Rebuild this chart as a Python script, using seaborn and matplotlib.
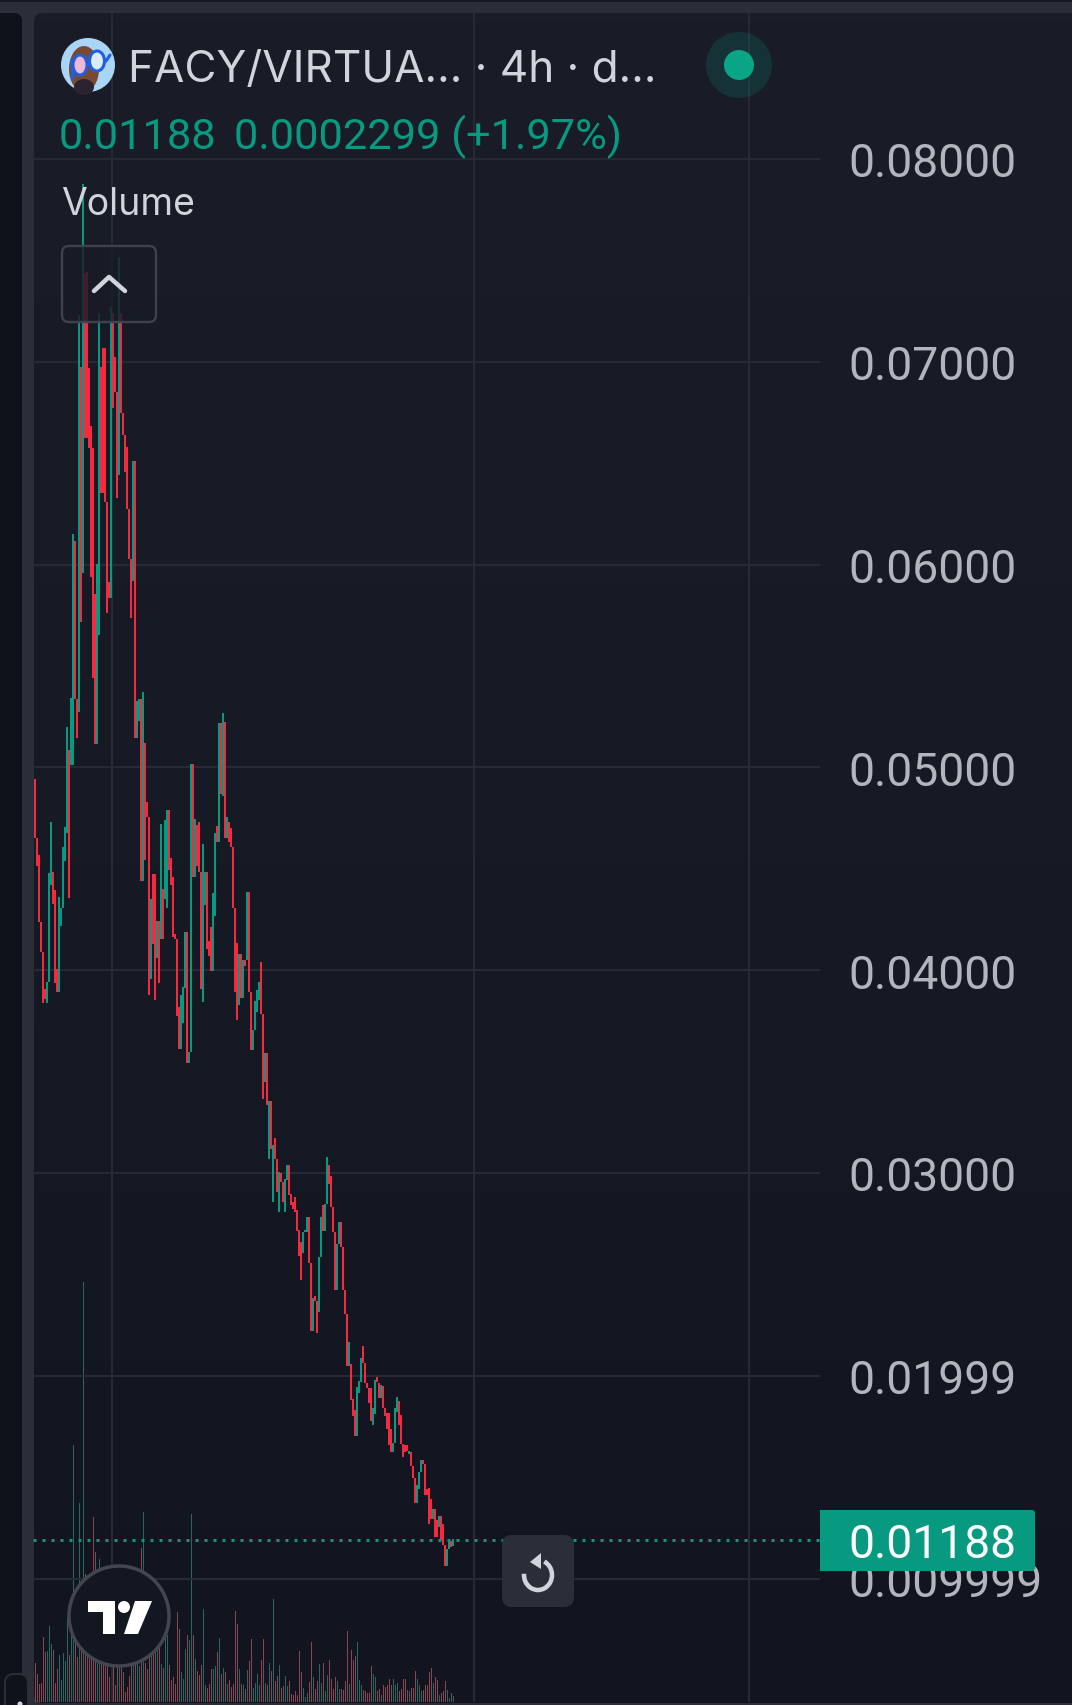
import numpy as np
import pandas as pd
import matplotlib
matplotlib.use("Agg")
import matplotlib.pyplot as plt
from matplotlib.patches import Circle, Ellipse, FancyBboxPatch, Polygon, Rectangle, Arc
import seaborn as sns

# ---- data (prices in units of 1e-5) ----
high_e5 = [
 4943,4653,4569,4239,4091,3908,3943,4480,4731,4485,
 4396,4007,4362,4308,4608,4707,5200,5086,5343,6151,
 6116,5338,7230,6974,7876,7437,7442,6969,6683,6575,
 5855,6003,7240,6974,7068,7068,6309,5914,7270,7240,
 7023,6851,7516,7240,6747,6639,6580,6274,6028,6511,
 6511,5328,5338,5338,5372,5121,4830,4756,4352,4475,
 4475,4243,4243,4721,4401,4741,4791,4791,4554,4460,
 4179,4155,3820,3879,3918,4189,4189,3598,5017,5017,
 4746,4717,4731,4485,4623,4485,4485,4145,4214,4381,
 4677,4712,5219,5219,5269,5224,4756,4731,4702,4608,
 4308,4135,4081,4081,4051,4051,4386,4386,3893,3706,
 3849,3903,3943,4041,3785,3593,3593,3356,3356,3139,
 3174,3070,3006,3001,2957,2972,3041,3041,2898,2858,
 2883,2819,2720,2661,2711,2720,2784,2784,2558,2385,
 2395,2370,2587,2784,2844,2848,3080,3041,2986,2834,
 2711,2651,2760,2760,2637,2425,2306,2168,2060,1887,
 1833,1942,1976,2085,2144,2065,1966,1937,1937,1843,
 1981,1996,1966,1956,1951,1843,1818,1818,1735,1666,
 1843,1897,1873,1804,1661,1656,1656,1631,1626,1557,
 1498,1459,1523,1582,1582,1567,1439,1444,1390,1345,
 1345,1286,1306,1306,1271,1163,1143,1192,1187,1197]
low_e5 = [
 4653,4515,4239,4091,3839,3859,3839,3943,4421,4327,
 3938,3893,3893,4219,4308,4539,4677,4357,5012,5012,
 5338,5145,5274,5717,5959,6624,6624,6575,5939,5441,
 5116,5116,5653,6353,6353,6309,5762,5835,5835,6772,
 6851,6328,6442,6747,6639,6457,6274,6028,5737,5919,
 5145,5145,5229,4441,4441,4544,4756,3879,3958,4130,
 3854,4061,3938,4155,4155,4352,4308,4495,4421,4165,
 4155,3775,3613,3613,3741,3913,3543,3543,3598,4460,
 4460,4515,4485,3908,3844,4322,4105,4071,3997,3997,
 4268,4633,4633,4869,4860,4653,4653,4633,4608,4308,
 3893,3755,3829,3864,3864,4022,4051,3893,3608,3608,
 3706,3795,3854,3785,3366,3450,3336,3070,3120,2858,
 3070,2908,2809,2957,2858,2809,2967,2893,2844,2824,
 2809,2715,2592,2474,2607,2711,2711,2558,2218,2218,
 2370,2213,2316,2587,2715,2715,2848,2947,2834,2711,
 2425,2425,2651,2637,2425,2306,2050,2050,1882,1799,
 1705,1705,1917,1971,2065,1966,1937,1863,1779,1759,
 1809,1971,1892,1892,1843,1799,1735,1656,1626,1626,
 1666,1823,1759,1661,1597,1626,1631,1616,1557,1498,
 1370,1370,1439,1523,1567,1414,1414,1271,1291,1291,
 1207,1207,1252,1192,1163,1064,1064,1143,1153,1158]
up_candles = [
 6,7,8,12,13,14,15,16,18,19,22,24,31,32,38,42,49,51,52,54,58,61,63,65,66,
 73,74,75,77,78,80,84,85,89,90,92,94,96,102,104,106,109,110,111,112,115,
 117,119,122,125,126,134,135,136,139,142,143,145,146,151,152,157,161,162,
 163,169,170,173,179,180,181,187,191,192,193,199,202,206,207,209]
volume = [
 39,28,18,19,65,50,51,76,58,52,
 19,33,47,22,49,41,85,47,70,257,
 60,45,199,52,420,128,100,70,60,185,
 150,60,143,42,45,50,48,25,38,40,
 17,40,38,35,30,10,15,26,37,38,
 38,42,36,154,190,39,33,45,50,55,
 52,60,70,38,34,70,67,37,22,25,
 18,90,73,30,23,53,67,62,188,67,
 43,31,27,37,93,17,14,18,33,33,
 36,50,64,28,34,30,18,22,15,18,
 91,78,33,18,17,13,32,41,63,14,
 19,28,17,42,63,19,17,39,31,103,
 21,26,37,14,16,26,16,21,8,7,
 11,7,51,30,14,5,9,20,60,25,
 13,21,38,19,39,11,27,42,23,13,
 25,21,13,13,12,21,71,18,52,42,
 46,60,22,17,12,11,9,9,36,28,
 25,11,13,7,17,15,17,23,17,23,
 17,19,11,13,23,23,12,11,14,14,
 31,23,17,11,12,17,17,30,34,19,
 25,22,7,9,11,21,12,4,9,6]
price_ticks = [0.08, 0.07, 0.06, 0.05, 0.04, 0.03, 0.01999, 0.009999]
price_labels = ["0.08000","0.07000","0.06000","0.05000","0.04000","0.03000","0.01999","0.009999"]
last_price = 0.01188
title_text = "FACY/VIRTUA... · 4h · d..."
quote_close = "0.01188"
quote_change = "0.0002299 (+1.97%)"
time_grid = [38.5, 219.5, 357]

UP, DOWN = "#089981", "#f5293f"
VOL_UP, VOL_DOWN = "#1f7067", "#8f3d4c"
GRID = "#262a35"
TEXT = "#d1d4dc"
TICK = "#b2b5be"
W, H = 1072, 1706
PX = 72 / 100  # points per pixel

sns.set_theme(style="dark")
plt.rcParams["font.family"] = ["Inter", "DejaVu Sans"]
NUM_FONT = ["Roboto", "DejaVu Sans"]

df = pd.DataFrame({"i": np.arange(len(high_e5)),
                   "high": np.array(high_e5) / 1e5,
                   "low": np.array(low_e5) / 1e5,
                   "volume": volume})
df["dir"] = np.where(df["i"].isin(up_candles), "up", "down")

fig = plt.figure(figsize=(W / 100, H / 100), dpi=100, facecolor="#2a2e39")

def frame(left, top, right, bottom):
    return [left / W, 1 - bottom / H, (right - left) / W, (bottom - top) / H]

# ---- background panels ----
bg = fig.add_axes([0, 0, 1, 1], zorder=0)
bg.set_xlim(0, W); bg.set_ylim(H, 0); bg.axis("off")
bg.add_patch(Rectangle((0, 0), W, 3, fc="#131722", ec="none"))
bg.add_patch(FancyBboxPatch((-20, 14), 42, H, boxstyle="round,pad=0,rounding_size=8", fc="#0f121a", ec="none"))
clip = FancyBboxPatch((34, 14), W, 1690, boxstyle="round,pad=0,rounding_size=9", fc="none", ec="none")
bg.add_patch(clip)
grad = np.linspace(0, 1, 256)[:, None]
cmap = matplotlib.colors.LinearSegmentedColormap.from_list("p", ["#1a1d28", "#161a25", "#12151f"])
im = bg.imshow(grad, extent=(34, W, 1704, 14), cmap=cmap, aspect="auto", zorder=1)
im.set_clip_path(clip)
bg.set_xlim(0, W); bg.set_ylim(H, 0)

# ---- volume ----
L, T, R, B = 33, 14, 820, 1703
ax_vol = fig.add_axes(frame(L, T, R, B), zorder=1, facecolor="none")
sns.barplot(data=df, x="i", y="volume", hue="dir", palette={"up": VOL_UP, "down": VOL_DOWN},
            dodge=False, native_scale=True, width=0.5, errorbar=None, legend=False, ax=ax_vol, linewidth=0)
ax_vol.set_xlim(-1.25, 392.25)
ax_vol.set_ylim(0, B - T)
ax_vol.axis("off")

# ---- price ----
ax = fig.add_axes(frame(L, T, R, B), zorder=2, facecolor="none")
ax.vlines(df["i"], df["low"], df["high"], colors=[UP if d == "up" else DOWN for d in df["dir"]],
          linewidth=2 * PX, capstyle="butt", zorder=3)
ax.axhline(last_price, color=UP, lw=3 * PX, linestyle=(0, (1, 2)), zorder=4)
ax.set_xlim(-1, 392.5)
ax.set_ylim(0.01 - (B - 1579.5) / 20280, 0.01 + (1579.5 - T) / 20280)
ax.set_xticks(time_grid); ax.set_xticklabels([])
ax.set_yticks(price_ticks); ax.set_yticklabels(price_labels, family=NUM_FONT)
ax.yaxis.tick_right()
ax.tick_params(axis="y", length=0, pad=28 * PX, labelsize=33.3, labelcolor=TICK)
ax.tick_params(axis="x", length=0)
ax.grid(True, color=GRID, lw=2 * PX)
ax.set_axisbelow(True)
for s in ax.spines.values():
    s.set_visible(False)

# ---- overlay chrome ----
ov = fig.add_axes([0, 0, 1, 1], zorder=3, facecolor="none")
ov.set_xlim(0, W); ov.set_ylim(H, 0); ov.axis("off")

# avatar
ov.add_patch(Circle((88, 66), 27, fc="#a9d6f7", ec="none"))
ov.add_patch(Ellipse((84, 70), 30, 46, fc="#7a4a30", ec="none"))
ov.add_patch(Ellipse((84, 88), 20, 16, fc="#2b2430", ec="none"))
ov.add_patch(Ellipse((80, 66), 14, 20, fc="#f2b6d8", ec="#1f5fe0", lw=2.2))
ov.add_patch(Ellipse((97, 62), 15, 20, fc="#d9ecfb", ec="#1f5fe0", lw=2.2))
ov.plot([106, 110], [62, 56], color="#1f5fe0", lw=2.2)
ov.plot([72, 73], [62, 80], color="#1f5fe0", lw=2.2)

ov.text(128, 70, title_text, color=TEXT, fontsize=31.7, va="center", ha="left")
ov.text(59, 137, quote_close, color=UP, fontsize=31.2, va="center", ha="left", family=NUM_FONT)
ov.text(234, 137, quote_change, color=UP, fontsize=31.2, va="center", ha="left", family=NUM_FONT)
ov.text(61, 205, "Volume", color=TEXT, fontsize=26.9, va="center", ha="left")

# status dot
ov.add_patch(Circle((739, 66), 33, fc="#089981", alpha=0.18, ec="none"))
ov.add_patch(Circle((739, 66), 15, fc="#0aa587", ec="none"))

# collapse button
ov.add_patch(FancyBboxPatch((62, 247), 94, 76, boxstyle="round,pad=0,rounding_size=7",
                            fc="#181b26", alpha=0.8, ec="none"))
ov.add_patch(FancyBboxPatch((62, 247), 94, 76, boxstyle="round,pad=0,rounding_size=7",
                            fc="none", ec="#3f424d", lw=2.4 * PX))
ov.plot([94, 109, 125], [292, 278, 292], color=TEXT, lw=4.5 * PX, solid_capstyle="round", solid_joinstyle="round")

# logo
ov.add_patch(Circle((119, 1617), 50, fc="#131722", ec="#434651", lw=3.5 * PX))
ov.add_patch(Polygon([(88, 1602), (115, 1602), (115, 1635), (103, 1635), (103, 1613), (88, 1613)], fc="white", ec="none"))
ov.add_patch(Circle((124, 1608), 6, fc="white", ec="none"))
ov.add_patch(Polygon([(135, 1602), (152, 1602), (138, 1635), (124, 1635)], fc="white", ec="none"))

# reload button
ov.add_patch(FancyBboxPatch((502, 1536), 72, 72, boxstyle="round,pad=0,rounding_size=10", fc="#2a2e39", ec="none"))
ov.add_patch(Arc((538, 1576), 28, 30, theta1=-65, theta2=185, color=TEXT, lw=4.5 * PX))
ov.add_patch(Polygon([(530, 1563), (541, 1554), (541, 1570)], fc=TEXT, ec="none"))

# last price tag
ov.add_patch(FancyBboxPatch((820, 1511), 215, 61, boxstyle="round,pad=0,rounding_size=3", fc=UP, ec="none"))
ov.add_patch(Rectangle((820, 1511), 10, 61, fc=UP, ec="none"))
ov.text(848, 1545, f"{last_price:.5f}", color="white", fontsize=33.3, va="center", ha="left", family=NUM_FONT)

# bottom edge and left control
ov.add_patch(Rectangle((34, 1704), W - 34, 2, fc="#2a2e39", ec="none"))
ov.add_patch(FancyBboxPatch((5, 1675), 23, 60, boxstyle="round,pad=0,rounding_size=9", fc="#0f121a", ec="#2a2e39", lw=2 * PX))
ov.add_patch(Circle((20, 1705), 2.5, fc=TEXT, ec="none"))

fig.savefig("out.png", dpi=100, facecolor=fig.get_facecolor())
